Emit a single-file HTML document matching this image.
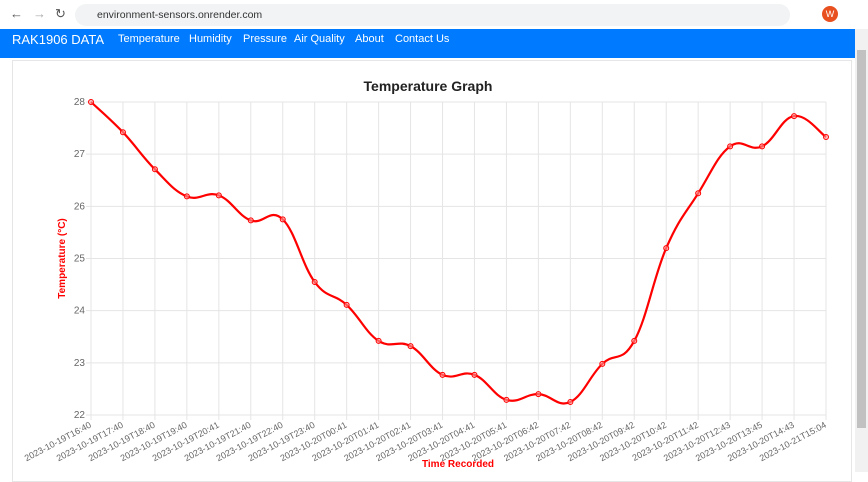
<!DOCTYPE html>
<html><head><meta charset="utf-8"><style>
body{margin:0;width:868px;height:472px;overflow:hidden;background:#fff;font-family:"Liberation Sans",sans-serif;position:relative}
#chrome{position:absolute;left:0;top:0;width:868px;height:29px;background:#fff}
#addr{position:absolute;left:75px;top:4px;width:715px;height:22px;border-radius:11px;background:#f1f3f4;font-size:10.5px;color:#333;line-height:22px;text-indent:22px}
#nav{position:absolute;left:0;top:29px;width:855px;height:29px;background:#007bff;color:#fff}
#nav span{position:absolute;top:4px;font-size:11px;white-space:nowrap}
#scroll{position:absolute;left:855px;top:29px;width:13px;height:443px;background:#f1f1f1}
#thumb{position:absolute;left:857px;top:50px;width:9px;height:378px;background:#c1c1c1}
#card{position:absolute;left:12px;top:60px;width:838px;height:420px;border:1px solid #e6e6e6}
</style></head><body>
<div id="chrome">
<span style="position:absolute;left:10px;top:6px;font-size:13px;color:#555">←</span>
<span style="position:absolute;left:33px;top:6px;font-size:13px;color:#aaa">→</span>
<span style="position:absolute;left:55px;top:6px;font-size:13px;color:#555">↻</span>
<div id="addr">environment-sensors.onrender.com</div>
<span style="position:absolute;left:822px;top:6px;width:16px;height:16px;border-radius:8px;background:#e8501f;color:#fff;font-size:9px;text-align:center;line-height:16px">W</span>
</div>
<div id="card"></div>
<div id="nav">
<span style="left:12px;top:3px;font-size:13px">RAK1906 DATA</span>
<span style="left:118px">Temperature</span>
<span style="left:189px">Humidity</span>
<span style="left:243px">Pressure</span>
<span style="left:294px">Air Quality</span>
<span style="left:355px">About</span>
<span style="left:395px">Contact Us</span>
</div>
<div id="scroll"></div><div id="thumb"></div>
<svg id="chart" width="868" height="472" style="position:absolute;left:0;top:0"></svg>
<script>
const labels=["2023-10-19T16:40","2023-10-19T17:40","2023-10-19T18:40","2023-10-19T19:40","2023-10-19T20:41","2023-10-19T21:40","2023-10-19T22:40","2023-10-19T23:40","2023-10-20T00:41","2023-10-20T01:41","2023-10-20T02:41","2023-10-20T03:41","2023-10-20T04:41","2023-10-20T05:41","2023-10-20T06:42","2023-10-20T07:42","2023-10-20T08:42","2023-10-20T09:42","2023-10-20T10:42","2023-10-20T11:42","2023-10-20T12:43","2023-10-20T13:45","2023-10-20T14:43","2023-10-21T15:04"];
const temps=[28.0,27.42,26.71,26.19,26.21,25.73,25.75,24.55,24.11,23.42,23.32,22.77,22.77,22.29,22.40,22.25,22.98,23.42,25.20,26.25,27.15,27.15,27.73,27.33];
const yTicks=[22,23,24,25,26,27,28];
const svg=document.getElementById('chart');const NS='http://www.w3.org/2000/svg';
const L=91,R=826,T=102,B=415,ymin=22,ymax=28;
const xs=i=>L+i*(R-L)/(labels.length-1);
const ys=v=>B-(v-ymin)/(ymax-ymin)*(B-T);
function mk(t,a,p){const e=document.createElementNS(NS,t);for(const k in a)e.setAttribute(k,a[k]);(p||svg).appendChild(e);return e;}
const title=mk('text',{x:428,y:91,'text-anchor':'middle','font-size':14,'font-weight':'bold',fill:'#222'});title.textContent='Temperature Graph';


yTicks.forEach(v=>{const g=mk('line',{x1:L-5,x2:R,y1:ys(v),y2:ys(v),stroke:'#e5e5e5'});


const t=mk('text',{x:L-6,y:ys(v)+3,'text-anchor':'end','font-size':10,fill:'#666'});t.textContent=v;

});
labels.forEach((s,i)=>{const x=xs(i);const g=mk('line',{x1:x,x2:x,y1:T,y2:B+5,stroke:'#e5e5e5'});


const t=mk('text',{x:x,y:B+12,'text-anchor':'end','font-size':9,fill:'#666',transform:`rotate(-28 ${x} ${B+10})`});t.textContent=s;

});
const yt=mk('text',{x:0,y:0,'text-anchor':'middle','font-size':10,'font-weight':'bold',fill:'red',transform:`translate(65 ${(T+B)/2}) rotate(-90)`});yt.textContent='Temperature (°C)';


const xt=mk('text',{x:458,y:467,'text-anchor':'middle','font-size':10,'font-weight':'bold',fill:'red'});xt.textContent='Time Recorded';


const P=temps.map((v,i)=>[xs(i),ys(v)]);const k=0.4/2;
let d=`M${P[0][0]},${P[0][1]}`;
for(let i=0;i<P.length-1;i++){const p0=P[i-1]||P[i],p1=P[i],p2=P[i+1],p3=P[i+2]||P[i+1];
d+=` C${p1[0]+(p2[0]-p0[0])*k},${p1[1]+(p2[1]-p0[1])*k} ${p2[0]-(p3[0]-p1[0])*k},${p2[1]-(p3[1]-p1[1])*k} ${p2[0]},${p2[1]}`;}
const line=mk('path',{d:d,fill:'none',stroke:'red','stroke-width':2.2});


P.forEach(p=>{const c=mk('circle',{cx:p[0],cy:p[1],r:2.5,fill:'rgba(255,150,150,0.6)',stroke:'red','stroke-width':1});

});
</script>
</body></html>
